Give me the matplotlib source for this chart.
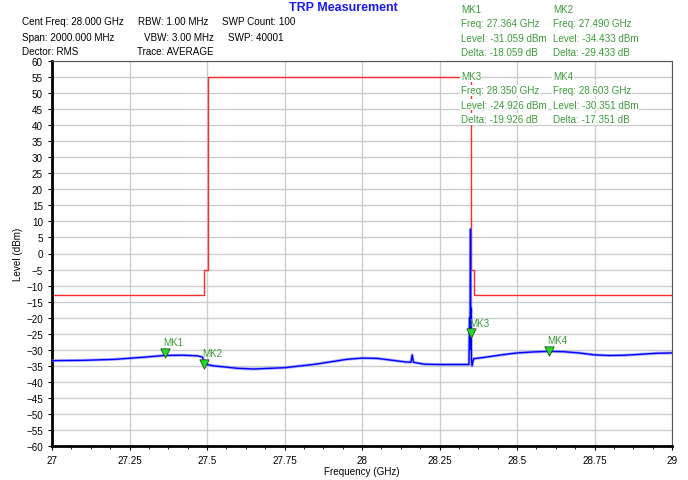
import numpy as np
import matplotlib.pyplot as plt
from matplotlib.ticker import MultipleLocator, FormatStrFormatter

plt.rcParams['font.family'] = ['Liberation Sans', 'DejaVu Sans']

trace_freq = [27.0, 27.1, 27.2, 27.3, 27.36, 27.42, 27.47, 27.485, 27.495, 27.52,
              27.6, 27.65, 27.75, 27.85, 27.95, 28.0, 28.05, 28.14, 28.158, 28.162,
              28.166, 28.2, 28.25, 28.3, 28.345, 28.347, 28.348, 28.349, 28.35,
              28.351, 28.352, 28.353, 28.355, 28.358, 28.36, 28.4, 28.45, 28.5,
              28.55, 28.6, 28.65, 28.7, 28.75, 28.8, 28.85, 28.9, 28.95, 29.0]
trace_level = [-33.4, -33.3, -33.0, -32.3, -31.8, -31.7, -31.9, -32.3, -34.5, -35.0,
               -35.8, -36.0, -35.6, -34.5, -33.0, -32.6, -32.7, -33.8, -33.9, -31.6,
               -33.9, -34.5, -34.6, -34.6, -34.6, -20.0, -30.0, -18.0, 7.6,
               -25.0, -17.0, -33.0, -35.0, -33.5, -32.8, -32.3, -31.6, -31.0,
               -30.7, -30.5, -30.6, -31.0, -31.6, -31.8, -31.7, -31.4, -31.1, -31.0]

mask_freq = [27.0, 27.49, 27.49, 27.502, 27.502, 28.35, 28.35, 28.362, 28.362, 29.0]
mask_level = [-13, -13, -5, -5, 55, 55, -5, -5, -13, -13]

mk_names = ['MK1', 'MK2', 'MK3', 'MK4']
mk_freq = [27.364, 27.490, 28.350, 28.603]
mk_level = [-31.059, -34.433, -24.926, -30.351]
mk_delta = [-18.059, -29.433, -19.926, -17.351]

W, H = 688, 481
fig = plt.figure(figsize=(W / 100, H / 100), dpi=100)
ax = fig.add_axes([52 / W, (H - 447) / H, 620 / W, 385 / H])

green = '#3a9a3a'
fs = 7.1

ax.plot(mask_freq, mask_level, color='#ff2a2a', lw=1.0, zorder=2)
ax.plot(trace_freq, trace_level, color='#8080ff', lw=2.2, alpha=0.6, zorder=3)
ax.plot(trace_freq, trace_level, color='#0000ff', lw=1.0, zorder=4)
ax.scatter(mk_freq, mk_level, marker='v', s=45, color='#22dd22',
           edgecolors='#205020', linewidths=0.6, zorder=5)
for n, f, l in zip(mk_names, mk_freq, mk_level):
    ax.text(f - 0.004, l + 1.8, n, color=green, fontsize=fs, ha='left', va='bottom', zorder=6)

ax.set_xlim(27, 29)
ax.set_ylim(-60, 60)
ax.xaxis.set_major_locator(MultipleLocator(0.25))
ax.xaxis.set_minor_locator(MultipleLocator(0.0625))
ax.xaxis.set_major_formatter(FormatStrFormatter('%g'))
ax.yaxis.set_major_locator(MultipleLocator(5))
ax.grid(True, color='#cccccc', lw=1.0)
ax.set_axisbelow(True)
ax.tick_params(labelsize=fs, length=3, width=0.8, colors='black')
ax.tick_params(which='minor', length=2, width=0.6)
ax.spines['left'].set_linewidth(2.0)
ax.spines['bottom'].set_linewidth(2.0)
ax.spines['top'].set_color('#555555')
ax.spines['right'].set_color('#555555')
ax.set_xlabel('Frequency (GHz)', fontsize=fs, labelpad=1)
ax.set_ylabel('Level (dBm)', fontsize=fs, labelpad=2)

def ftext(x, y, s, **kw):
    fig.text(x / W, 1 - y / H, s, va='center', fontsize=fs, **kw)

fig.text(343 / W, 1 - 8 / H, 'TRP Measurement', ha='center', va='center',
         fontsize=9, fontweight='bold', color='#1a1aee')

ftext(22, 22, 'Cent Freq: 28.000 GHz')
ftext(138, 22, 'RBW: 1.00 MHz')
ftext(222, 22, 'SWP Count: 100')
ftext(22, 38, 'Span: 2000.000 MHz')
ftext(144, 38, 'VBW: 3.00 MHz')
ftext(228, 38, 'SWP: 40001')
ftext(22, 52, 'Dector: RMS')
ftext(137, 52, 'Trace: AVERAGE')

cols = [461, 553, 461, 553]
rows = [10, 10, 77, 77]
box = dict(facecolor='white', edgecolor='none', pad=0.6)
for i in range(4):
    lines = [mk_names[i], 'Freq: %.3f GHz' % mk_freq[i],
             'Level: %.3f dBm' % mk_level[i], 'Delta: %.3f dB' % mk_delta[i]]
    for j, s in enumerate(lines):
        ftext(cols[i], rows[i] + j * 14.3, s, color=green, bbox=box, zorder=10)

fig.savefig('out.png', dpi=100)
